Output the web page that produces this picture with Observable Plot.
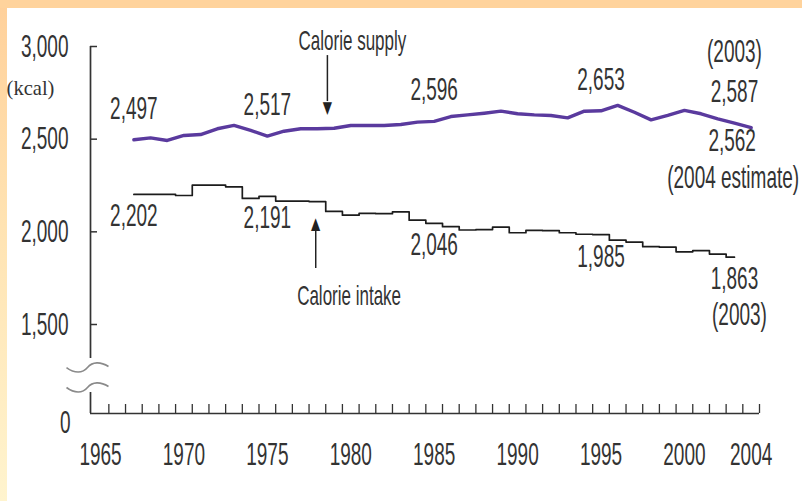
<!DOCTYPE html>
<html>
<head>
<meta charset="utf-8">
<script src="https://cdn.jsdelivr.net/npm/d3@7"></script>
<script src="https://cdn.jsdelivr.net/npm/@observablehq/plot@0.6"></script>
<style>
  html, body { margin: 0; padding: 0; background: #fff; }
  #chart { width: 802px; height: 501px; }
</style>
</head>
<body>
<div id="chart"></div>
<script>
// ---- data ----
const supplyYears = [1967,1968,1969,1970,1971,1972,1973,1974,1975,1976,1977,1978,1979,1980,1981,1982,1983,1984,1985,1986,1987,1988,1989,1990,1991,1992,1993,1994,1995,1996,1997,1998,1999,2000,2001,2002,2003,2004];
const supplyValues = [2497,2507,2493,2520,2525,2556,2574,2547,2517,2543,2556,2556,2559,2574,2574,2574,2579,2592,2596,2622,2631,2640,2651,2637,2631,2628,2615,2651,2653,2682,2645,2604,2628,2655,2637,2610,2587,2562];
const intakeYears = [1967,1968,1969,1970,1971,1972,1973,1974,1975,1976,1977,1978,1979,1980,1981,1982,1983,1984,1985,1986,1987,1988,1989,1990,1991,1992,1993,1994,1995,1996,1997,1998,1999,2000,2001,2002,2003];
const intakeValues = [2202,2202,2202,2196,2252,2252,2243,2180,2191,2166,2166,2163,2110,2090,2100,2098,2108,2063,2046,2028,2010,2012,2025,1995,2008,2006,1995,1987,1985,1955,1945,1920,1917,1892,1899,1880,1863];

const xTickLabels = [1965,1970,1975,1980,1985,1990,1995,2000,2004];
const yTickValues = [1500,2000,2500,3000];
const yTickLabels = ["1,500","2,000","2,500","3,000"];
const yZeroLabel = "0";
const unitLabel = "(kcal)";

const supplyLabelYears = [1967,1975,1985,1995,2003];
const intakeLabelYears = [1967,1975,1985,1995,2003];

const noteTexts = ["Calorie supply","Calorie intake"];
const noteYears = [1980.1,1979.9];
const noteValues = [3032,1651];
const arrowYears = [1978.6,1977.9];
const arrowFrom = [2951,1802];
const arrowTo = [2703,2007];
const arrowHeads = ["\u25BC","\u25B2"];
const arrowHeadValues = [2668,2042];

// ---- derived tables ----
const fmt = d3.format(",");
const supply = supplyYears.map((year, i) => ({year, value: supplyValues[i]}));
const intake = intakeYears.map((year, i) => ({year, value: intakeValues[i]}));
const X0 = 1964.4, X1 = 2004.5;
const yearBounds = d3.range(1965.5, 2005, 1);
const axisSegments = [{from: 927, to: 3000}, {from: 0, to: 354}];
const breakMarks = [775, 438];
const notes = noteTexts.map((text, i) => ({text, year: noteYears[i], value: noteValues[i]}));
const arrows = arrowYears.map((year, i) => ({year, from: arrowFrom[i], to: arrowTo[i], head: arrowHeads[i], hv: arrowHeadValues[i]}));

// axis-break squiggle drawn as a custom dot symbol
const waveSymbol = {
  draw(ctx) {
    ctx.moveTo(-21, 0);
    ctx.bezierCurveTo(-13, 6, -5, 6, 0, 0);
    ctx.bezierCurveTo(5, -6, 13, -6, 21, -1);
  }
};

const ink = "#333";
const font = "'Liberation Sans', Arial, Helvetica, sans-serif";
const S = {ariaDescription: "stretch"};

const chart = Plot.plot({
  width: 802,
  height: 501,
  marginLeft: 90,
  marginRight: 43,
  marginTop: 46,
  marginBottom: 88,
  x: {type: "linear", domain: [X0, X1], axis: null},
  y: {type: "linear", domain: [0, 1500, 3000], range: [413, 324, 46], axis: null},
  style: {
    fontFamily: font,
    color: ink,
    overflow: "visible",
    background: "linear-gradient(#FFD39C,#FFD39C) top left / 100% 8px no-repeat, linear-gradient(to bottom, #FFD09A, #FFE3B2 45%, #FFF4CE) top left / 7px 100% no-repeat, #fff"
  },
  marks: [
    // x axis
    Plot.tickX(yearBounds, {x: d => d, stroke: ink, strokeWidth: 1.3, insetTop: 358}),
    Plot.ruleY([0], {stroke: ink, strokeWidth: 1.7}),
    Plot.text(xTickLabels, {x: d => d, y: () => 0, text: d => String(d), dy: 41, fontSize: 19, fill: ink, ...S}),
    // y axis with break
    Plot.ruleX(axisSegments, {x: () => X0, y1: "from", y2: "to", stroke: ink, strokeWidth: 1.7}),
    Plot.tickY(yTickValues, {y: d => d, stroke: ink, strokeWidth: 1.5, insetRight: 662}),
    Plot.text(yTickValues, {x: () => X0, y: d => d, text: (d, i) => yTickLabels[i], textAnchor: "end", dx: -22, fontSize: 19, fill: ink, ...S}),
    Plot.text([0], {x: () => X0, y: d => d, text: () => yZeroLabel, textAnchor: "end", dx: -20, dy: 9, fontSize: 19, fill: ink, ...S}),
    Plot.text([3000], {x: () => X0, y: d => d, text: () => unitLabel, dx: -60, dy: 42, fontSize: 19, fontFamily: "'Liberation Serif', 'Times New Roman', serif", fill: ink, ariaDescription: "unit"}),
    Plot.dot(breakMarks, {x: () => X0, y: d => d, symbol: waveSymbol, r: 5, dx: -3, fill: "none", stroke: "#8a8a8a", strokeWidth: 1.6}),
    // series
    Plot.line(intake, {x: "year", y: "value", stroke: "#1c1c1c", strokeWidth: 1.7, curve: "step"}),
    Plot.line(supply, {x: "year", y: "value", stroke: "#5a3a9e", strokeWidth: 3.4, strokeLinejoin: "round"}),
    // value labels
    Plot.text(supply.filter(d => supplyLabelYears.includes(d.year)), {x: "year", y: "value", text: d => fmt(d.value), dy: -31, fontSize: 19, fill: ink, ...S}),
    Plot.text(supply.filter(d => d.year === 2003), {x: "year", y: "value", text: () => "(2003)", dy: -71, fontSize: 19, fill: ink, ...S}),
    Plot.text(supply.filter(d => d.year === 2004), {x: "year", y: "value", text: d => fmt(d.value), dx: -19, dy: 13.5, fontSize: 19, fill: ink, ...S}),
    Plot.text(supply.filter(d => d.year === 2004), {x: "year", y: "value", text: () => "(2004 estimate)", dx: -18, dy: 50, fontSize: 19, fill: ink, ...S}),
    Plot.text(intake.filter(d => intakeLabelYears.includes(d.year)), {x: "year", y: "value", text: d => fmt(d.value), dy: 22, fontSize: 19, fill: ink, ...S}),
    Plot.text(intake.filter(d => d.year === 2003), {x: "year", y: "value", text: () => "(2003)", dx: 5, dy: 57.5, fontSize: 19, fill: ink, ...S}),
    // annotations
    Plot.text(notes, {x: "year", y: "value", text: "text", fontSize: 17, fill: ink, ...S}),
    Plot.ruleX(arrows, {x: "year", y1: "from", y2: "to", stroke: "#222", strokeWidth: 1.5}),
    Plot.text(arrows, {x: "year", y: "hv", text: "head", fontSize: 12, fontFamily: "'DejaVu Sans', sans-serif", fill: "#222", ariaDescription: "head"})
  ]
});

const sel = d3.select(chart);
const addScale = (label, s) => sel.selectAll(`g[aria-description="${label}"] text`).each(function () {
  const t = this.getAttribute("transform") || "";
  this.setAttribute("transform", t + " " + s);
});
addScale("stretch", "scale(1,1.65)");
addScale("unit", "scale(1.08,1.1)");
addScale("head", "scale(1,1.4)");

document.getElementById("chart").append(chart);
</script>
</body>
</html>
